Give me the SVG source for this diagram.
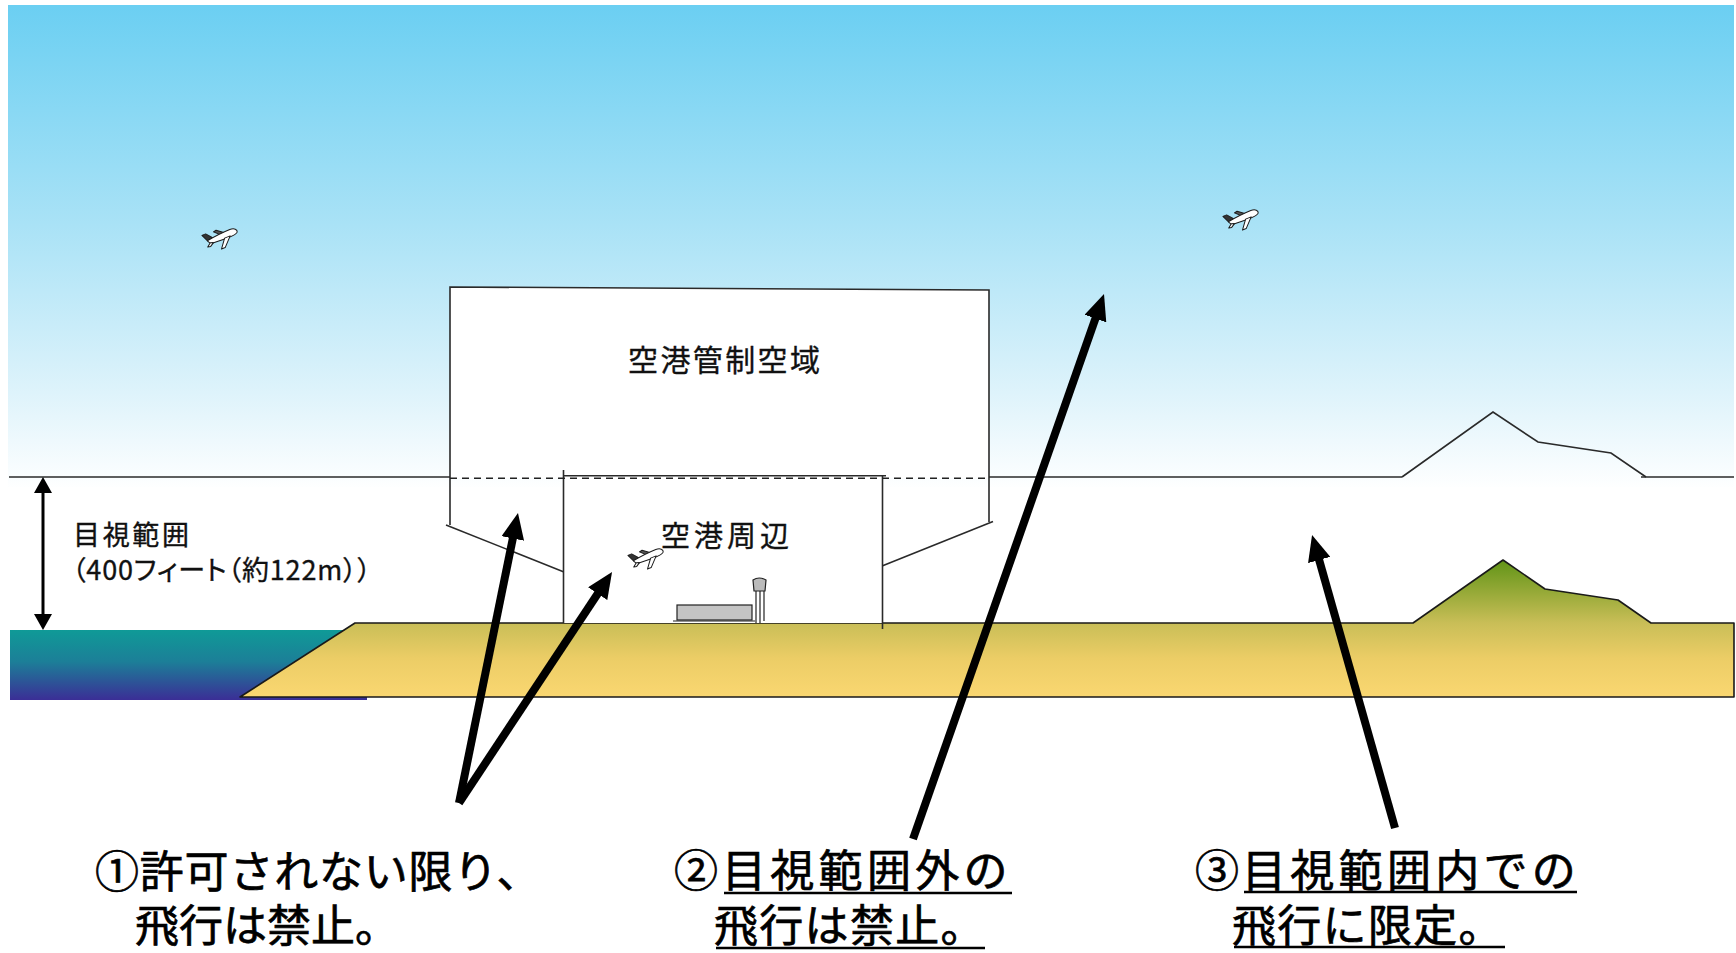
<svg xmlns="http://www.w3.org/2000/svg" width="1736" height="953" viewBox="0 0 1736 953">
  <defs>
    <linearGradient id="skyGrad" gradientUnits="userSpaceOnUse" x1="0" y1="5" x2="0" y2="490">
      <stop offset="0" stop-color="#6bcff2"/>
      <stop offset="0.45" stop-color="#a9e2f6"/>
      <stop offset="0.8" stop-color="#def3fb"/>
      <stop offset="1" stop-color="#ffffff"/>
    </linearGradient>
    <linearGradient id="waterGrad" gradientUnits="userSpaceOnUse" x1="0" y1="630" x2="0" y2="700">
      <stop offset="0" stop-color="#0f9a97"/>
      <stop offset="0.45" stop-color="#1c7f98"/>
      <stop offset="1" stop-color="#3b2e96"/>
    </linearGradient>
    <linearGradient id="groundGrad" gradientUnits="userSpaceOnUse" x1="0" y1="560" x2="0" y2="697">
      <stop offset="0" stop-color="#619417"/>
      <stop offset="0.46" stop-color="#c9be57"/>
      <stop offset="0.72" stop-color="#eccd66"/>
      <stop offset="1" stop-color="#fad771"/>
    </linearGradient>
    <marker id="ah" viewBox="0 0 26 23" refX="6" refY="11.5" markerWidth="26" markerHeight="23" markerUnits="userSpaceOnUse" orient="auto">
      <path d="M0,0 L26,11.5 L0,23 Z" fill="#000"/>
    </marker>
    <marker id="dimHead" viewBox="0 0 16 18" refX="3" refY="9" markerWidth="16" markerHeight="18" markerUnits="userSpaceOnUse" orient="auto-start-reverse">
      <path d="M0,0 L16,9 L0,18 Z" fill="#000"/>
    </marker>
    <!-- small airliner, nose pointing along +x -->
    <g id="plane" stroke="#1a1a1a" stroke-width="1" stroke-linejoin="round">
      <path d="M-1,-3 L-6,-8 L-3,-8.5 L4,-3 Z" fill="#555"/>
      <path d="M-15,-2 L-18,-9 L-14,-9 L-9,-3 Z" fill="#333"/>
      <path d="M-15,-2 C-8,-3 4,-4 10,-4 C15,-4 17,-1 16,1 C15,3 10,3 4,3 L-13,2 Z" fill="#fff"/>
      <path d="M-13,1 L-17,4 L-14,4.5 L-10,2 Z" fill="#fff"/>
      <path d="M2,2 L-5,11 L-1,11 L8,2 Z" fill="#fff"/>
    </g>
  </defs>
  <style>
    .edge { fill: none; stroke: #2a2a2a; stroke-width: 1.6; }
    .lbl { font-family: "Noto Sans CJK JP", "Noto Sans", sans-serif; fill: #111; stroke: #111; stroke-width: 0.35; }
    .big { font-family: "Noto Sans CJK JP", "Noto Sans", sans-serif; fill: #000; stroke: #000; stroke-width: 0.7; font-size: 44px; }
    .palt { font-feature-settings: "palt" 1; }
    .uline { stroke: #000; stroke-width: 2.5; }
    .arrow { stroke: #000; stroke-width: 8; fill: none; marker-end: url(#ah); }
  </style>

  <rect width="1736" height="953" fill="#fff"/>

  <!-- sky -->
  <g id="sky">
    <rect x="8" y="5" width="1726" height="482" fill="url(#skyGrad)"/>
    <polyline class="edge" points="9,477 450,477"/>
    <polyline class="edge" points="989,477 1402,477"/>
    <polyline class="edge" points="1641,477 1734,477"/>
    <polyline id="mountain-outline" class="edge" points="1402,477 1493,412 1538,442 1611,453 1646,477"/>
    <use href="#plane" transform="translate(222,237) rotate(-22)"/>
    <use href="#plane" transform="translate(1243,218) rotate(-22)"/>
  </g>

  <!-- airport controlled airspace -->
  <g id="controlled-airspace">
    <polygon points="450,287 989,290 989,478 450,478" fill="#fff"/>
    <polyline class="edge" points="450,525 450,287 989,290 989,522"/>
    <line class="edge" x1="446" y1="525" x2="569" y2="574"/>
    <line class="edge" x1="993" y1="521.5" x2="882" y2="566"/>
    <text class="lbl" x="628" y="371" font-size="30" textLength="192">空港管制空域</text>
  </g>

  <!-- water and land -->
  <g id="water">
    <rect x="10" y="630" width="357" height="70" fill="url(#waterGrad)"/>
  </g>
  <g id="ground">
    <polygon points="240,697 355,623 1413,623 1503,560 1545,589 1618,600 1651,623 1734,623 1734,697" fill="url(#groundGrad)" stroke="#1a1a1a" stroke-width="1.6" stroke-linejoin="round"/>
  </g>

  <!-- airport vicinity -->
  <g id="airport-vicinity">
    <rect x="563" y="476" width="319" height="147" fill="#fff"/>
    <line class="edge" x1="563.5" y1="470" x2="563.5" y2="623"/>
    <line class="edge" x1="563" y1="475.8" x2="886" y2="475.8"/>
    <line class="edge" x1="882.5" y1="476" x2="882.5" y2="629"/>
    <text class="lbl" x="661" y="547" font-size="29" textLength="128">空港周辺</text>
    <use href="#plane" transform="translate(648,557) rotate(-22)"/>
    <!-- terminal building and control tower -->
    <rect x="677" y="605" width="75" height="15" fill="#c4c4c4" stroke="#222" stroke-width="1.2"/>
    <line x1="673" y1="621" x2="755" y2="621" stroke="#222" stroke-width="1.2"/>
    <g stroke="#222" stroke-width="1.2" fill="none">
      <path d="M753,580 Q759,576 766,580 L765,591 L754,591 Z" fill="#bbb"/>
      <line x1="756" y1="591" x2="756" y2="623"/>
      <line x1="760" y1="591" x2="760" y2="623"/>
      <line x1="764" y1="591" x2="764" y2="621"/>
    </g>
  </g>

  <!-- visual line of sight boundary -->
  <line x1="450" y1="478.3" x2="989" y2="478.3" stroke="#222" stroke-width="1.4" stroke-dasharray="7 5"/>

  <!-- visual range height indicator -->
  <g id="visual-range">
    <line x1="43" y1="490" x2="43" y2="617" stroke="#000" stroke-width="3" marker-start="url(#dimHead)" marker-end="url(#dimHead)"/>
    <text class="lbl" x="73" y="545" font-size="27" textLength="116">目視範囲</text>
    <text class="lbl palt" x="72" y="580" font-size="27" textLength="299">（400フィート（約122m））</text>
  </g>

  <!-- pointers from the rules to the regions -->
  <g id="connectors">
    <line class="arrow" x1="459" y1="803" x2="514" y2="532.6"/>
    <line class="arrow" x1="459" y1="803" x2="601" y2="588.7"/>
    <line class="arrow" x1="913" y1="839" x2="1097.4" y2="312.9"/>
    <line class="arrow" x1="1395" y1="828" x2="1317.5" y2="554.2"/>
  </g>

  <!-- rules -->
  <g id="rule-1">
    <text class="big"><tspan x="95" y="888" letter-spacing="0.8">①許可されない限り、</tspan><tspan x="135" y="942">飛行は禁止。</tspan></text>
  </g>
  <g id="rule-2">
    <text class="big"><tspan x="674" y="887">②</tspan><tspan x="722" y="887" letter-spacing="4.3">目視範囲外の</tspan><tspan x="714" y="942" letter-spacing="1.3">飛行は禁止。</tspan></text>
    <line class="uline" x1="724" y1="893" x2="1012" y2="893"/>
    <line class="uline" x1="716" y1="948" x2="985" y2="948"/>
  </g>
  <g id="rule-3">
    <text class="big"><tspan x="1195" y="887">③</tspan><tspan x="1242" y="887" letter-spacing="4.3">目視範囲内での</tspan><tspan x="1232" y="942" letter-spacing="1.3">飛行に限定。</tspan></text>
    <line class="uline" x1="1244" y1="892" x2="1577" y2="892"/>
    <line class="uline" x1="1234" y1="947" x2="1505" y2="947"/>
  </g>
</svg>
